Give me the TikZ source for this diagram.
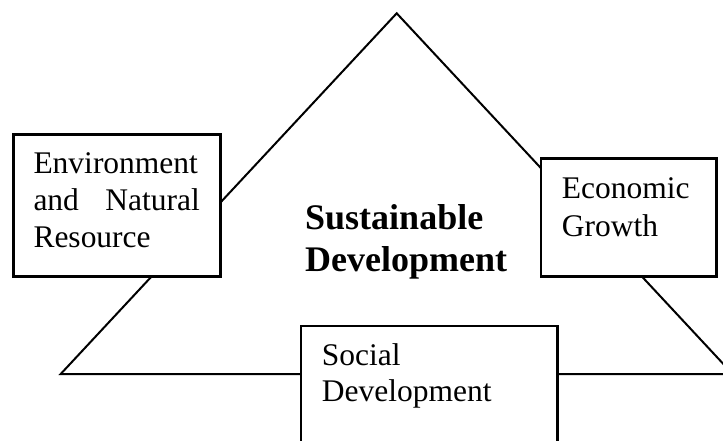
\documentclass[tikz,border=0pt]{standalone}
\usepackage{fontspec}
\setmainfont{Liberation Serif}
\begin{document}
\begin{tikzpicture}[x=1pt,y=-1pt,
  boxshape/.style={draw=black, line width=2.5pt, fill=white, inner sep=0pt, rectangle},
  txt/.style={inner sep=0pt, font=\fontsize{31.5}{37}\selectfont},
  bigtxt/.style={inner sep=0pt, font=\fontsize{36}{42}\selectfont\bfseries},
  tri/.style={draw=black, line width=2pt, line join=miter}]
\useasboundingbox (0,0) rectangle (723,440);
\clip (0,0) rectangle (723,440);
% triangle
\coordinate (apex) at (396.7,13.3);
\coordinate (bl) at (60.7,374);
\coordinate (br) at (732.7,374);
\draw[tri] (bl) -- (apex) -- (br) -- cycle;
% boxes
\node[boxshape, minimum width=207.4pt, minimum height=142.4pt] (envbox) at (117,205.5) {};
\node[boxshape, minimum width=175.7pt, minimum height=118.4pt] (ecobox) at (628.85,217.5) {};
\node[boxshape, minimum width=256.3pt, minimum height=134pt] (socbox) at (429.15,393) {};
% texts
\node[txt, anchor=base west] (env1) at (33.3,173.3) {Environment};
\node[txt, anchor=base west] (env2a) at (33.3,210.7) {and};
\node[txt, anchor=base east] (env2b) at (200,210.7) {Natural};
\node[txt, anchor=base west] (env3) at (33.3,247.5) {Resource};
\node[txt, anchor=base west] (eco1) at (561.7,198.3) {Economic};
\node[txt, anchor=base west] (eco2) at (561.7,236) {Growth};
\node[txt, anchor=base west] (soc1) at (321.7,365) {Social};
\node[txt, anchor=base west] (soc2) at (321.7,401.7) {Development};
\node[bigtxt, anchor=base west] (sd1) at (305,229) {Sustainable};
\node[bigtxt, anchor=base west] (sd2) at (305,271.7) {Development};
\end{tikzpicture}
\end{document}
